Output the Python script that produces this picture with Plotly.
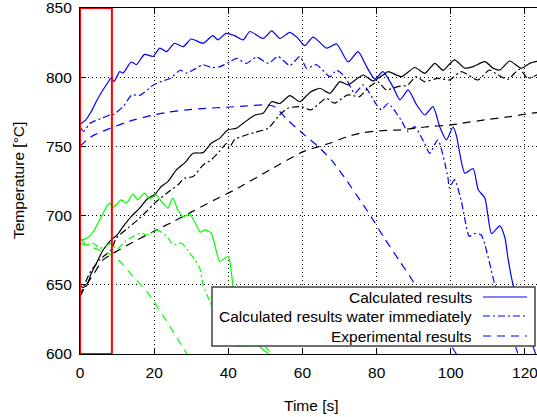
import plotly.graph_objects as go

# ---------------- data ----------------
blue_calc_t = [0, 1.5, 3, 4.5, 6, 7.5, 8.4, 9.2, 10.7, 11.6, 13.8, 15.2, 17.4, 19.7, 21.5, 23.3, 25.5, 27.8, 30, 33.2,
               35.8, 37.2, 39.4, 41.7, 44, 45.8, 49.4, 51.7, 53.9, 56.6, 58.8, 60.6, 62.9, 66.5, 69.2, 72.3, 75, 77.3,
               79.5, 81.7, 84.4, 86.3, 88.5, 90.8, 93, 95.2, 97, 98.8, 100.6, 101.5, 103.8, 106, 107.4, 109.2, 111,
               113.2, 114.6, 115.4, 116.8, 119, 121, 122.5, 123.5]
blue_calc_T = [766, 769, 775, 783, 790, 796, 799.5, 797, 804, 803, 811, 809, 816.5, 815, 821, 818.5, 824.5, 822, 827.6, 824.5,
               830, 827, 831.7, 830, 827, 833, 828, 833.4, 828, 832.4, 828, 822.8, 829, 821, 824, 811, 818.5, 807.6,
               798.7, 804, 793, 783.6, 790.8, 780, 772.7, 778.7, 764.3, 754.7, 764, 758, 730.6, 734, 718.6, 712.6, 687,
               692.6, 684, 669.5, 650, 630, 615, 603, 595]

blue_water_t = [0, 1, 2.7, 5.5, 8.1, 9, 11.7, 13.9, 16.2, 19.8, 22, 24.3, 27, 28.8, 31, 33.2, 35.5, 37.7, 40.4, 42.2,
                44.9, 47.6, 50.8, 53.4, 56.6, 59.3, 61.1, 63.8, 67.4, 69.2, 71.4, 74.1, 76.4, 80, 81.3, 83.1, 86.6,
                88.4, 90.2, 92.9, 94.3, 96.5, 99.2, 99.6, 101, 102.8, 105, 106.4, 108.2, 111.8, 115, 118, 119]
blue_water_T = [764, 761, 766.7, 770, 772.7, 773, 779, 787, 787, 794.4, 797, 799, 805, 803, 806, 809, 807, 807.6, 811, 813.6,
                810, 814.5, 810, 815, 808.4, 815, 806.5, 809, 800.4, 805, 800.4, 788.4, 794.4, 780, 776.4, 781, 769,
                760.7, 764.3, 752.3, 745, 754.7, 728, 720, 726, 711, 685, 687, 686, 651, 625, 601, 592]

blue_exp_t = [0, 2, 4, 8.1, 12, 15, 19.8, 24, 28.8, 34, 39.5, 45, 50.3, 52.5, 56, 60, 64.2, 68, 72, 76.7, 78.5, 82, 86,
              90.2, 94, 98, 101.5, 103]
blue_exp_T = [750, 755, 758.5, 763, 767, 769.5, 772.7, 774.8, 776.4, 777.5, 778.3, 779.3, 780, 778.7, 769, 759.5, 750,
              739.5, 725, 706.5, 699.3, 684, 668, 651, 634, 615, 600, 593]

black_calc_t = [0, 0.8, 1.8, 3, 4.5, 6.2, 8.4, 10, 11.6, 13.8, 16.1, 18.3, 20.1, 21.9, 23.7, 26, 28.3, 30.5, 33.2, 35.4,
                37.7, 39.9, 42.1, 44, 47.2, 49.4, 51.7, 53.9, 56.6, 59.3, 62, 64.7, 67.4, 70.1, 72.3, 74.6, 76.4, 79,
                81.7, 83.1, 86.7, 90.3, 93, 95.7, 97.9, 101, 103.8, 106, 109.2, 111.4, 113.2, 115.9, 119, 121.3, 123.5]
black_calc_T = [650, 648, 649.5, 658, 666, 675, 682.5, 686, 692, 699.3, 705.4, 712.6, 715, 721, 724.6, 733, 738.3, 745,
                745.5, 752.3, 756, 762, 763, 766.7, 772.7, 774, 782.3, 781, 786.7, 782.3, 789, 792, 788.4, 796.8, 794.4,
                798.7, 801.6, 797.3, 801.6, 804, 800.4, 807, 802.8, 810, 805, 812.5, 806.5, 807.6, 811.3, 806.5, 805.2,
                811.7, 806.5, 810, 811.5]

black_water_t = [0, 2.6, 5.3, 8.4, 9.8, 12.9, 15.6, 18.3, 20.1, 23.3, 26.4, 28.2, 30.5, 33.2, 35.4, 37.6, 39.5, 40.2,
                 41.7, 44, 47, 50.7, 53.4, 56, 59.6, 62.3, 66.4, 68.6, 72.2, 75.4, 77.6, 80.3, 82.6, 85.7, 88.4, 90.6,
                 92.9, 96.5, 99.6, 102.8, 107.3, 110.4, 112.7, 115.4, 118.5, 120.8, 123.5]
black_water_T = [642, 658.4, 668, 675.3, 683.7, 691, 697, 704, 709, 716, 722.2, 727, 728.2, 736.6, 740.3, 746.3, 752,
                 748.7, 755, 757.5, 760, 763, 771.5, 777.6, 778.7, 776.4, 784.8, 781.2, 787.2, 786, 792, 796.8, 790.8,
                 793.2, 794.4, 800.4, 796.8, 799.2, 798, 804, 798, 805.2, 801.6, 798.5, 805.7, 799.2, 802]

black_exp_t = [0, 1.5, 3.5, 6.2, 8.5, 13, 19.8, 25, 30, 36, 42, 51.2, 60.2, 67.4, 72, 76.4, 81.7, 86.6, 93, 100, 102.9,
               110, 116, 121.7, 123.5]
black_exp_T = [641.6, 649, 657, 668, 672, 679, 688.5, 695.5, 702.5, 711, 719, 733, 746.2, 752.3, 757, 760, 761.4, 762,
               764, 765.5, 766.7, 769.5, 771.5, 774, 774.5]

green_calc_t = [0, 2, 3.6, 5.7, 7.2, 8, 9, 11.1, 12.5, 14.3, 15.6, 17.4, 18.8, 20.5, 22, 23.7, 25, 26.4, 27.8, 29.6,
                30.9, 32.5, 33.6, 35.4, 37.7, 40, 41.3, 43, 45, 47, 49, 52]
green_calc_T = [682, 684, 688.5, 699, 706.5, 709, 706, 711.4, 709, 715.5, 711.4, 716.3, 712, 715, 710, 705.4, 712.6, 704,
                699.3, 701, 695.7, 688, 689.7, 687.3, 667, 670.4, 649, 636, 622, 610, 604, 598]

green_water_t = [0, 1.8, 3.6, 5.4, 7, 8.1, 10, 12, 14.4, 16.2, 18.4, 20.7, 23.4, 25.1, 27.4, 29.6, 31, 32.3, 33.2, 35,
                 37, 39, 41, 43, 47, 50, 52]
green_water_T = [683.7, 679, 680, 676.5, 678, 680, 676, 681, 685, 687.3, 686, 689.7, 685, 679, 680, 672.9, 668, 662,
                 650, 638, 625, 614, 607, 605.5, 606, 605, 598]

green_exp_t = [0, 2, 4.9, 8.4, 10.7, 14, 18.3, 22.8, 27.3, 28.7, 29.5]
green_exp_T = [680, 678.5, 675.3, 671.7, 667, 657, 644, 626, 606.7, 600.6, 597]

x_ticks = [0, 20, 40, 60, 80, 100, 120]
y_ticks = [600, 650, 700, 750, 800, 850]
legend_labels = ["Calculated results", "Calculated results water immediately", "Experimental results"]
x_title = "Time [s]"
y_title = "Temperature [°C]"

# ---------------- styles ----------------
BLUE = "#0000ff"
BLACK = "#000000"
GREEN = "#00ff00"
DASHDOT = "7px,3px,2px,3px"
DASHED = "8px,6px"
FONT = "Liberation Sans, Arial, sans-serif"
LW = 1.2

series = [
    (blue_calc_t, blue_calc_T, BLUE, "solid"),
    (blue_water_t, blue_water_T, BLUE, DASHDOT),
    (blue_exp_t, blue_exp_T, BLUE, DASHED),
    (black_calc_t, black_calc_T, BLACK, "solid"),
    (black_water_t, black_water_T, BLACK, DASHDOT),
    (black_exp_t, black_exp_T, BLACK, DASHED),
    (green_calc_t, green_calc_T, GREEN, "solid"),
    (green_water_t, green_water_T, GREEN, DASHDOT),
    (green_exp_t, green_exp_T, GREEN, DASHED),
]

fig = go.Figure()
for t, T, col, dash in series:
    fig.add_trace(go.Scatter(x=t, y=T, mode="lines",
                             line=dict(color=col, width=LW, dash=dash, shape="spline", smoothing=0.6),
                             showlegend=False, hoverinfo="skip"))

# plot area (pixels)
L, TOP, B, W, H = 80, 8, 63, 537, 417
pw = W - L
ph = H - TOP - B
xmax = pw / 3.708

fig.update_layout(
    width=W, height=H,
    margin=dict(l=L, r=0, t=TOP, b=B),
    paper_bgcolor="white", plot_bgcolor="white",
    font=dict(family=FONT, size=15.5, color="black"),
    xaxis=dict(range=[0, xmax], tickvals=x_ticks, ticks="inside", ticklen=6, tickcolor="black",
               showline=True, linecolor="black", linewidth=1.2, mirror="ticks",
               showgrid=True, gridcolor="black", gridwidth=1, griddash="1px,3px",
               zeroline=False, ticklabelstandoff=4, ticklabeloverflow="allow"),
    yaxis=dict(range=[600, 850], tickvals=y_ticks, ticks="inside", ticklen=6, tickcolor="black",
               showline=True, linecolor="black", linewidth=1.2, mirror=False,
               showgrid=True, gridcolor="black", gridwidth=1, griddash="1px,3px",
               zeroline=False, ticklabelstandoff=4, ticklabeloverflow="allow"),
)

def px_x(p):
    return (p - L) / pw

def px_y(p):
    return (H - B - p) / ph

shapes = []
# red highlight rectangle (first ~8.6 s)
shapes.append(dict(type="rect", xref="x", yref="y", x0=0, x1=8.6, y0=600, y1=850,
                   line=dict(color="#ff0000", width=2), fillcolor="rgba(0,0,0,0)", layer="above"))
# legend box
shapes.append(dict(type="rect", xref="paper", yref="paper", x0=px_x(212), x1=px_x(535),
                   y0=px_y(346), y1=px_y(287), line=dict(color="#404040", width=1.5),
                   fillcolor="white", layer="above"))
row_y = [297, 316, 336]
styles = ["solid", DASHDOT, DASHED]
annotations = []
for lab, ry, st in zip(legend_labels, row_y, styles):
    annotations.append(dict(text=lab, xref="paper", yref="paper", x=px_x(474), y=px_y(ry),
                            xanchor="right", yanchor="middle", showarrow=False,
                            font=dict(family=FONT, size=15.5, color="black")))
    shapes.append(dict(type="line", xref="paper", yref="paper", x0=px_x(483), x1=px_x(527),
                       y0=px_y(ry), y1=px_y(ry), line=dict(color=BLUE, width=LW, dash=st), layer="above"))

annotations.append(dict(text=x_title, xref="paper", yref="paper", x=px_x(311.5), y=px_y(405),
                        xanchor="center", yanchor="middle", showarrow=False))
annotations.append(dict(text=y_title, xref="paper", yref="paper", x=px_x(18), y=0.5, textangle=-90,
                        xanchor="center", yanchor="middle", showarrow=False))

fig.update_layout(shapes=shapes, annotations=annotations)
fig.write_html("out.html")
